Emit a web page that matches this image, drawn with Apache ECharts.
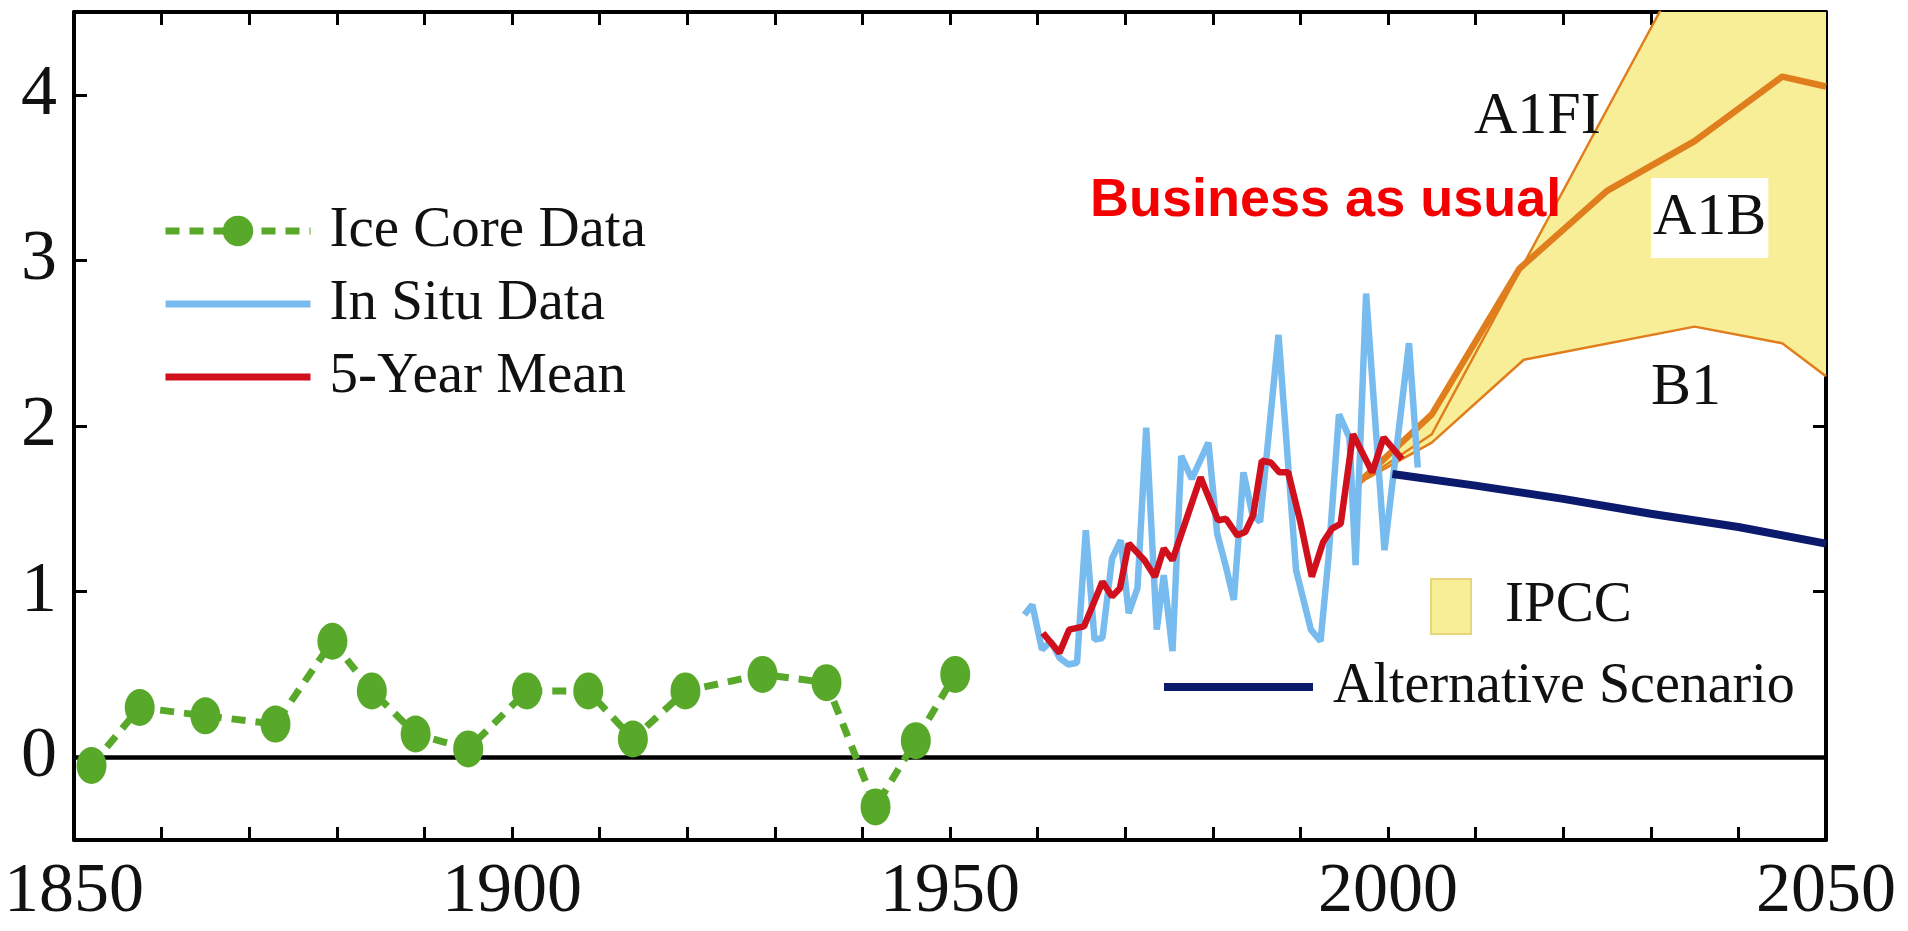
<!DOCTYPE html>
<html><head><meta charset="utf-8">
<script src="https://cdn.jsdelivr.net/npm/echarts@6/dist/echarts.min.js"></script>
<style>html,body{margin:0;padding:0;background:#fff}#chart{width:1908px;height:931px}</style>
</head><body><div id="chart"></div>
<script>
// ---- tick labels ----
const xTickLabels = [1850, 1900, 1950, 2000, 2050];
const yTickLabels = [0, 1, 2, 3, 4];

// ---- Ice core data ----
const iceYears  = [1852, 1857.5, 1865, 1873, 1879.5, 1884, 1889, 1895, 1901.7, 1908.7, 1913.8, 1919.8, 1928.6, 1935.9, 1941.5, 1946.1, 1950.6];
const iceValues = [-0.05, 0.30, 0.25, 0.20, 0.70, 0.40, 0.14, 0.05, 0.40, 0.40, 0.11, 0.40, 0.50, 0.45, -0.30, 0.10, 0.50];

// ---- In situ data ----
const inSituYears  = [1958.5, 1959.4, 1960.5, 1961.5, 1962.5, 1963.5, 1964.5, 1965.5, 1966.5, 1967.4, 1968.5, 1969.5, 1970.4, 1971.4, 1972.4, 1973.6, 1974.4, 1975.4, 1976.4, 1977.6, 1979.5, 1980.5, 1981.5, 1982.4, 1983.5, 1984.5, 1985.4, 1987.5, 1989.5, 1991.2, 1992.3, 1993.2, 1994.4, 1995.6, 1996.3, 1997.5, 1999.6, 2002.4, 2003.4];
const inSituValues = [0.86, 0.92, 0.65, 0.70, 0.60, 0.56, 0.57, 1.37, 0.71, 0.72, 1.20, 1.31, 0.87, 1.02, 1.99, 0.77, 1.10, 0.64, 1.82, 1.68, 1.90, 1.35, 1.15, 0.95, 1.72, 1.47, 1.42, 2.55, 1.13, 0.77, 0.70, 1.20, 2.07, 1.93, 1.16, 2.80, 1.25, 2.50, 1.75];

// ---- 5-year mean ----
const meanYears  = [1960.6, 1962.5, 1963.6, 1965.3, 1967.4, 1968.5, 1969.4, 1970.4, 1972.2, 1973.4, 1974.4, 1975.4, 1978.6, 1980.6, 1981.5, 1982.8, 1983.7, 1984.6, 1985.6, 1986.6, 1987.6, 1988.6, 1990.0, 1991.3, 1992.6, 1993.6, 1994.6, 1996.0, 1998.2, 1999.5, 2001.6];
const meanValues = [0.75, 0.63, 0.77, 0.79, 1.06, 0.97, 1.02, 1.29, 1.19, 1.09, 1.26, 1.19, 1.69, 1.43, 1.44, 1.34, 1.36, 1.46, 1.79, 1.78, 1.72, 1.72, 1.42, 1.09, 1.30, 1.38, 1.41, 1.95, 1.72, 1.93, 1.80];

// ---- IPCC scenarios ----
const a1fiYears  = [1996.5, 2005, 2031, 2050];
const a1fiValues = [1.65, 1.95, 4.5, 6.4];
const a1bYears   = [1996.5, 2005, 2015, 2025, 2035, 2045, 2050];
const a1bValues  = [1.65, 2.07, 2.95, 3.42, 3.72, 4.11, 4.05];
const b1Years    = [1996.5, 2005, 2015.5, 2035, 2045, 2050];
const b1Values   = [1.65, 1.90, 2.40, 2.60, 2.50, 2.30];

// ---- Alternative scenario ----
const altYears  = [2000.5, 2010, 2020, 2030, 2040, 2050];
const altValues = [1.71, 1.64, 1.56, 1.47, 1.39, 1.29];

const pairs = (xs, ys) => xs.map((x, i) => [x, ys[i]]);

const SERIF = '"Liberation Serif", "Times New Roman", serif';
const YELLOW = '#f8ee98';
const ORANGE = '#e07d1c';
const GREEN = '#58a82a';
const BLUE = '#78bbef';
const RED = '#d0101c';
const NAVY = '#0c1a6e';

const chart = echarts.init(document.getElementById('chart'));

const axisCommonX = {
  type: 'value', min: 1850, max: 2050, interval: 10,
  axisLine: { show: true, onZero: false, lineStyle: { color: '#000', width: 4 } },
  axisTick: { show: true, inside: true, length: 13, lineStyle: { color: '#000', width: 3 } },
  splitLine: { show: false }
};
const axisCommonY = {
  type: 'value', min: -0.5, max: 4.5,
  axisLine: { show: true, onZero: false, lineStyle: { color: '#000', width: 4 } },
  axisTick: { show: true, inside: true, length: 13, customValues: yTickLabels, lineStyle: { color: '#000', width: 3 } },
  splitLine: { show: false }
};

const legendText = { fontFamily: SERIF, fontSize: 57, color: '#111' };

chart.setOption({
  animation: false,
  backgroundColor: '#fff',
  grid: { left: 74, right: 82, top: 12, bottom: 91, containLabel: false },
  xAxis: [
    Object.assign({}, axisCommonX, {
      position: 'bottom',
      axisLabel: { customValues: xTickLabels, formatter: v => String(v), margin: 18, fontFamily: SERIF, fontSize: 70, color: '#111' }
    }),
    Object.assign({}, axisCommonX, { position: 'top', axisLabel: { show: false } })
  ],
  yAxis: [
    Object.assign({}, axisCommonY, {
      position: 'left',
      axisLabel: { customValues: yTickLabels, formatter: v => String(v), margin: 17, fontFamily: SERIF, fontSize: 72, color: '#111' }
    }),
    Object.assign({}, axisCommonY, { position: 'right', axisLabel: { show: false } })
  ],
  legend: [
    {
      data: [
        { name: 'Ice Core Data' },
        { name: 'In Situ Data', itemStyle: { opacity: 0 } },
        { name: '5-Year Mean', itemStyle: { opacity: 0 } }
      ],
      orient: 'vertical', left: 162, top: 201, padding: 0,
      itemWidth: 145, itemHeight: 38, itemGap: 13, selectedMode: false,
      lineStyle: { width: 7 },
      textStyle: Object.assign({ lineHeight: 60, padding: [0, 0, 0, 14] }, legendText)
    },
    {
      data: [{ name: 'IPCC', icon: 'rect', itemStyle: { color: YELLOW, borderColor: '#e6d679', borderWidth: 2 } }],
      orient: 'vertical', left: 1430, top: 578, padding: 0,
      itemWidth: 40, itemHeight: 55, selectedMode: false,
      textStyle: Object.assign({ lineHeight: 55, padding: [0, 0, 0, 29] }, legendText)
    },
    {
      data: [{ name: 'Alternative Scenario', itemStyle: { opacity: 0 } }],
      orient: 'vertical', left: 1160, top: 657, padding: 0,
      itemWidth: 149, itemHeight: 14, selectedMode: false,
      lineStyle: { width: 8 },
      textStyle: Object.assign({ lineHeight: 60, padding: [0, 0, 0, 15] }, legendText, { fontSize: 56 })
    }
  ],
  graphic: [
    { type: 'text', z: 100, x: 1474, y: 117, style: { text: 'A1FI', font: '60px ' + SERIF, fill: '#111', align: 'left', verticalAlign: 'middle' } },
    { type: 'text', z: 100, x: 1651, y: 218, style: { text: 'A1B', font: '60px ' + SERIF, fill: '#111', align: 'left', verticalAlign: 'middle', backgroundColor: '#fff', padding: [10, 2, 10, 2] } },
    { type: 'text', z: 100, x: 1651, y: 388, style: { text: 'B1', font: '60px ' + SERIF, fill: '#111', align: 'left', verticalAlign: 'middle' } },
    { type: 'text', z: 100, x: 1090, y: 201, style: { text: 'Business as usual', font: 'bold 54px "Liberation Sans", Arial, sans-serif', fill: '#f40000', align: 'left', verticalAlign: 'middle' } }
  ],
  series: [
    {
      name: 'IPCC', type: 'custom', z: 1, clip: true, silent: true,
      itemStyle: { color: YELLOW },
      data: pairs(b1Years, b1Values),
      renderItem: function (params, api) {
        if (params.dataIndex !== 0) return null;
        const lower = b1Years.map((y, i) => api.coord([y, b1Values[i]])).reverse();
        const upA = a1fiYears.map((y, i) => api.coord([y, a1fiValues[i]]));
        const upB = a1bYears.map((y, i) => api.coord([y, a1bValues[i]]));
        return {
          type: 'group',
          children: [
            { type: 'polygon', shape: { points: upA.concat(lower) }, style: { fill: YELLOW } },
            { type: 'polygon', shape: { points: upB.concat(lower) }, style: { fill: YELLOW } }
          ]
        };
      }
    },
    { name: 'A1FI', type: 'line', z: 2, symbol: 'none', silent: true, data: pairs(a1fiYears, a1fiValues), lineStyle: { color: ORANGE, width: 2.5 }, itemStyle: { color: ORANGE } },
    { name: 'B1', type: 'line', z: 2, symbol: 'none', silent: true, data: pairs(b1Years, b1Values), lineStyle: { color: ORANGE, width: 2.5 }, itemStyle: { color: ORANGE } },
    { name: 'A1B', type: 'line', z: 2, symbol: 'none', silent: true, data: pairs(a1bYears, a1bValues), lineStyle: { color: ORANGE, width: 6.5 }, itemStyle: { color: ORANGE } },
    { name: 'In Situ Data', type: 'line', z: 3, symbol: 'none', data: pairs(inSituYears, inSituValues), lineStyle: { color: BLUE, width: 6.5 }, itemStyle: { color: BLUE } },
    { name: '5-Year Mean', type: 'line', z: 4, symbol: 'none', data: pairs(meanYears, meanValues), lineStyle: { color: RED, width: 6.5 }, itemStyle: { color: RED } },
    { name: 'Alternative Scenario', type: 'line', z: 5, symbol: 'none', data: pairs(altYears, altValues), lineStyle: { color: NAVY, width: 8 }, itemStyle: { color: NAVY } },
    {
      name: 'Ice Core Data', type: 'line', z: 6,
      symbol: 'circle', symbolSize: [30, 37],
      data: pairs(iceYears, iceValues),
      lineStyle: { color: GREEN, width: 7, type: [14, 10] },
      itemStyle: { color: GREEN },
      markLine: {
        silent: true, symbol: 'none', label: { show: false },
        lineStyle: { color: '#000', width: 4.5, type: 'solid' },
        data: [{ yAxis: 0 }]
      }
    }
  ]
});
</script>
</body></html>
